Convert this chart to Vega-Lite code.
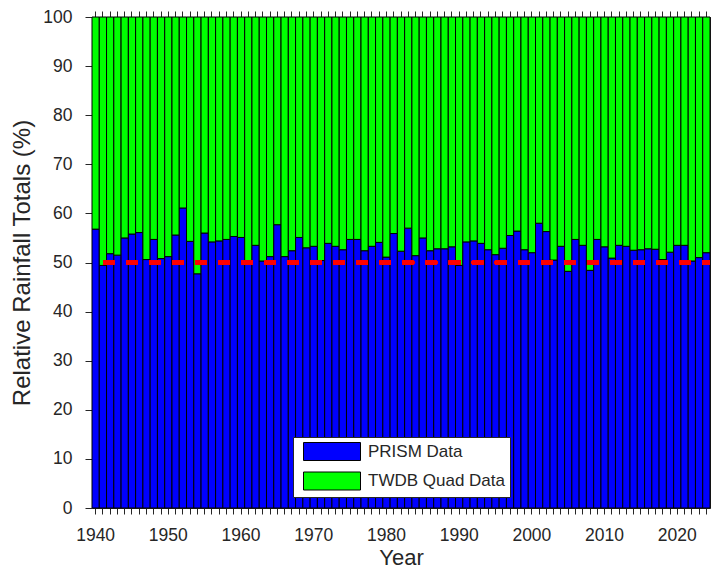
{
  "$schema": "https://vega.github.io/schema/vega-lite/v6.json",
  "width": 618,
  "height": 491,
  "autosize": {"type": "none"},
  "padding": {"left": 92, "top": 17, "right": 1, "bottom": 65},
  "background": "white",
  "config": {
    "view": {"stroke": null},
    "font": "Liberation Sans",
    "axis": {
      "domainColor": "#262626",
      "tickColor": "#262626",
      "labelColor": "#262626",
      "titleColor": "#262626",
      "grid": false,
      "labelFont": "Liberation Sans",
      "titleFont": "Liberation Sans",
      "labelFontSize": 17.5,
      "titleFontSize": 22,
      "titleFontWeight": "normal"
    }
  },
  "data": {
    "values": [
      {"year": 1940, "prism": 56.8, "twdb": 43.2},
      {"year": 1941, "prism": 49.4, "twdb": 50.6},
      {"year": 1942, "prism": 51.8, "twdb": 48.2},
      {"year": 1943, "prism": 51.5, "twdb": 48.5},
      {"year": 1944, "prism": 55.0, "twdb": 45.0},
      {"year": 1945, "prism": 55.8, "twdb": 44.2},
      {"year": 1946, "prism": 56.1, "twdb": 43.9},
      {"year": 1947, "prism": 50.6, "twdb": 49.4},
      {"year": 1948, "prism": 54.7, "twdb": 45.3},
      {"year": 1949, "prism": 50.8, "twdb": 49.2},
      {"year": 1950, "prism": 51.2, "twdb": 48.8},
      {"year": 1951, "prism": 55.6, "twdb": 44.4},
      {"year": 1952, "prism": 61.1, "twdb": 38.9},
      {"year": 1953, "prism": 54.3, "twdb": 45.7},
      {"year": 1954, "prism": 47.7, "twdb": 52.3},
      {"year": 1955, "prism": 56.0, "twdb": 44.0},
      {"year": 1956, "prism": 54.2, "twdb": 45.8},
      {"year": 1957, "prism": 54.4, "twdb": 45.6},
      {"year": 1958, "prism": 54.7, "twdb": 45.3},
      {"year": 1959, "prism": 55.3, "twdb": 44.7},
      {"year": 1960, "prism": 55.1, "twdb": 44.9},
      {"year": 1961, "prism": 50.1, "twdb": 49.9},
      {"year": 1962, "prism": 53.5, "twdb": 46.5},
      {"year": 1963, "prism": 50.3, "twdb": 49.7},
      {"year": 1964, "prism": 51.2, "twdb": 48.8},
      {"year": 1965, "prism": 57.7, "twdb": 42.3},
      {"year": 1966, "prism": 51.2, "twdb": 48.8},
      {"year": 1967, "prism": 52.4, "twdb": 47.6},
      {"year": 1968, "prism": 55.1, "twdb": 44.9},
      {"year": 1969, "prism": 53.0, "twdb": 47.0},
      {"year": 1970, "prism": 53.3, "twdb": 46.7},
      {"year": 1971, "prism": 50.4, "twdb": 49.6},
      {"year": 1972, "prism": 53.9, "twdb": 46.1},
      {"year": 1973, "prism": 53.3, "twdb": 46.7},
      {"year": 1974, "prism": 52.6, "twdb": 47.4},
      {"year": 1975, "prism": 54.7, "twdb": 45.3},
      {"year": 1976, "prism": 54.7, "twdb": 45.3},
      {"year": 1977, "prism": 52.4, "twdb": 47.6},
      {"year": 1978, "prism": 53.3, "twdb": 46.7},
      {"year": 1979, "prism": 54.1, "twdb": 45.9},
      {"year": 1980, "prism": 51.1, "twdb": 48.9},
      {"year": 1981, "prism": 55.9, "twdb": 44.1},
      {"year": 1982, "prism": 52.3, "twdb": 47.7},
      {"year": 1983, "prism": 57.0, "twdb": 43.0},
      {"year": 1984, "prism": 51.4, "twdb": 48.6},
      {"year": 1985, "prism": 55.0, "twdb": 45.0},
      {"year": 1986, "prism": 52.4, "twdb": 47.6},
      {"year": 1987, "prism": 52.8, "twdb": 47.2},
      {"year": 1988, "prism": 52.8, "twdb": 47.2},
      {"year": 1989, "prism": 53.2, "twdb": 46.8},
      {"year": 1990, "prism": 49.4, "twdb": 50.6},
      {"year": 1991, "prism": 54.2, "twdb": 45.8},
      {"year": 1992, "prism": 54.4, "twdb": 45.6},
      {"year": 1993, "prism": 53.9, "twdb": 46.1},
      {"year": 1994, "prism": 52.6, "twdb": 47.4},
      {"year": 1995, "prism": 51.6, "twdb": 48.4},
      {"year": 1996, "prism": 52.9, "twdb": 47.1},
      {"year": 1997, "prism": 55.5, "twdb": 44.5},
      {"year": 1998, "prism": 56.4, "twdb": 43.6},
      {"year": 1999, "prism": 52.6, "twdb": 47.4},
      {"year": 2000, "prism": 52.0, "twdb": 48.0},
      {"year": 2001, "prism": 58.0, "twdb": 42.0},
      {"year": 2002, "prism": 56.3, "twdb": 43.7},
      {"year": 2003, "prism": 50.5, "twdb": 49.5},
      {"year": 2004, "prism": 53.3, "twdb": 46.7},
      {"year": 2005, "prism": 48.2, "twdb": 51.8},
      {"year": 2006, "prism": 54.7, "twdb": 45.3},
      {"year": 2007, "prism": 53.5, "twdb": 46.5},
      {"year": 2008, "prism": 48.4, "twdb": 51.6},
      {"year": 2009, "prism": 54.7, "twdb": 45.3},
      {"year": 2010, "prism": 53.2, "twdb": 46.8},
      {"year": 2011, "prism": 50.9, "twdb": 49.1},
      {"year": 2012, "prism": 53.5, "twdb": 46.5},
      {"year": 2013, "prism": 53.3, "twdb": 46.7},
      {"year": 2014, "prism": 52.5, "twdb": 47.5},
      {"year": 2015, "prism": 52.6, "twdb": 47.4},
      {"year": 2016, "prism": 52.8, "twdb": 47.2},
      {"year": 2017, "prism": 52.7, "twdb": 47.3},
      {"year": 2018, "prism": 50.6, "twdb": 49.4},
      {"year": 2019, "prism": 52.1, "twdb": 47.9},
      {"year": 2020, "prism": 53.5, "twdb": 46.5},
      {"year": 2021, "prism": 53.5, "twdb": 46.5},
      {"year": 2022, "prism": 50.3, "twdb": 49.7},
      {"year": 2023, "prism": 51.0, "twdb": 49.0},
      {"year": 2024, "prism": 52.0, "twdb": 48.0}
    ]
  },
  "resolve": {"axis": {"x": "independent", "y": "independent"}},
  "layer": [
    {
      "transform": [{"fold": ["prism", "twdb"], "as": ["series", "pct"]}],
      "mark": {"type": "bar", "stroke": "#000000", "strokeWidth": 1, "opacity": 1},
      "encoding": {
        "x": {
          "field": "year",
          "type": "ordinal",
          "sort": "ascending",
          "scale": {"paddingInner": 0, "paddingOuter": 0},
          "axis": {
            "orient": "bottom",
            "title": "Year",
            "labelAngle": 0,
            "labelExpr": "datum.value % 10 == 0 ? datum.label : ''",
            "tickSize": 6,
            "labelPadding": 12,
            "titlePadding": 4,
            "domainWidth": 1
          }
        },
        "y": {
          "field": "pct",
          "type": "quantitative",
          "stack": "zero",
          "scale": {"domain": [0, 100], "nice": false},
          "axis": {
            "orient": "left",
            "title": "Relative Rainfall Totals (%)",
            "titleFontSize": 24,
            "values": [0, 10, 20, 30, 40, 50, 60, 70, 80, 90, 100],
            "tickSize": 7,
            "labelPadding": 13,
            "titlePadding": 8
          }
        },
        "color": {
          "field": "series",
          "type": "nominal",
          "scale": {"domain": ["prism", "twdb"], "range": ["#0000FF", "#00FF00"]},
          "legend": {
            "orient": "none",
            "legendX": 201,
            "legendY": 420,
            "title": null,
            "direction": "vertical",
            "labelExpr": "datum.label == 'prism' ? 'PRISM Data' : 'TWDB Quad Data'",
            "labelFont": "Liberation Sans",
            "labelFontSize": 17,
            "labelColor": "#262626",
            "symbolType": "M-0.444,-1H5.889V1H-0.444Z",
            "symbolSize": 324,
            "symbolStrokeColor": "#000000",
            "symbolStrokeWidth": 1,
            "symbolOpacity": 1,
            "labelOffset": 51,
            "rowPadding": 6.5,
            "padding": 5,
            "fillColor": "#FFFFFF",
            "strokeColor": "#262626"
          }
        },
        "order": {"field": "series", "type": "nominal", "sort": "ascending"}
      }
    },
    {
      "mark": {"type": "bar", "opacity": 0},
      "encoding": {
        "x": {
          "field": "year",
          "type": "ordinal",
          "axis": {"orient": "top", "title": null, "labels": false, "tickSize": 6}
        }
      }
    },
    {
      "mark": {"type": "rule", "color": "#FF0000", "strokeWidth": 3.5, "strokeDash": [11.3, 11.75], "strokeDashOffset": 3.7},
      "encoding": {
        "y": {
          "datum": 50,
          "type": "quantitative",
          "axis": {"orient": "right", "title": null, "labels": false, "values": [0, 10, 20, 30, 40, 50, 60, 70, 80, 90, 100], "tickSize": 7}
        }
      }
    }
  ]
}
